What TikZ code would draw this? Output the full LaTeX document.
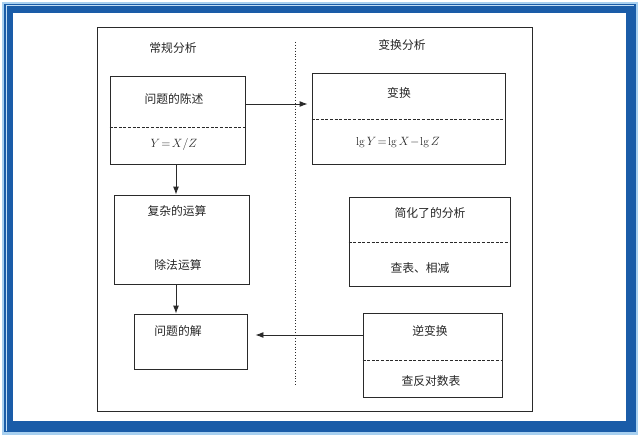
\documentclass[tikz,border=0pt]{standalone}
\usepackage{fontspec}
\newfontfamily\cjk{Noto Sans CJK SC}
\usetikzlibrary{arrows.meta}
\definecolor{frameblue}{HTML}{1A5CA8}
\definecolor{framelight}{HTML}{A8D0F0}
\definecolor{linegray}{HTML}{2A2A2A}
\begin{document}
\begin{tikzpicture}[x=1pt,y=-1pt,
  boxnode/.style={draw=linegray,line width=0.9pt,rectangle,inner sep=0pt},
  lbl/.style={font=\cjk\fontsize{11.8pt}{14pt}\selectfont,text=black!85,inner sep=0pt},
  mlbl/.style={font=\fontsize{11.5pt}{14pt}\selectfont,text=black!85,inner sep=0pt},
  divider/.style={draw=linegray,line width=0.9pt,dash pattern=on 3pt off 1.6pt},
  conn/.style={draw=linegray,line width=0.9pt,-{Latex[length=8pt,width=6pt]}}]
\useasboundingbox (0,0) rectangle (640,436);
% frame
\fill[white] (0,0) rectangle (640,436);
\fill[framelight] (2,2) rectangle (638,435);
\fill[frameblue] (4,4) rectangle (636,432);
\fill[white] (13,13) rectangle (626,421);
\draw[framelight!70!white,line width=1pt] (6,431) -- (6,6) -- (634,6);
% outer box
\node[boxnode,minimum width=435pt,minimum height=384pt] (outer) at (314.5,219) {};
\coordinate (dtop) at (295,42);
\coordinate (dbot) at (295,386);
\draw[linegray,line width=0.9pt,dotted] (dtop) -- (dbot);
% titles
\node[lbl] (t1) at (173,48) {常规分析};
\node[lbl] (t2) at (402,45) {变换分析};
% box 1
\node[boxnode,minimum width=135pt,minimum height=88pt] (b1) at (177.5,120) {};
\draw[divider] (b1.west |- 0,127) -- (b1.east |- 0,127);
\node[lbl] (b1a) at (174,99) {问题的陈述};
\node[mlbl] (b1b) at (174,144) {$Y\!=\!X/Z$};
% box 2
\node[boxnode,minimum width=193pt,minimum height=91pt] (b2) at (408.5,118.5) {};
\draw[divider] (b2.west |- 0,119) -- (b2.east |- 0,119);
\node[lbl] (b2a) at (399,93) {变换};
\node[mlbl] (b2b) at (398,143) {$\lg Y\!=\!\lg X\!-\!\lg Z$};
% box 3
\node[boxnode,minimum width=135pt,minimum height=89pt] (b3) at (181.5,239.5) {};
\node[lbl] (b3a) at (177,211) {复杂的运算};
\node[lbl] (b3b) at (178,265) {除法运算};
% box 4
\node[boxnode,minimum width=113pt,minimum height=55pt] (b4) at (190.5,341.5) {};
\node[lbl] (b4a) at (178,331) {问题的解};
% box 5
\node[boxnode,minimum width=161pt,minimum height=89pt] (b5) at (429.5,241.5) {};
\draw[divider] (b5.west |- 0,242) -- (b5.east |- 0,242);
\node[lbl] (b5a) at (430,213) {简化了的分析};
\node[lbl] (b5b) at (420,268) {查表、相减};
% box 6
\node[boxnode,minimum width=139pt,minimum height=84pt] (b6) at (432.5,355) {};
\draw[divider] (b6.west |- 0,360) -- (b6.east |- 0,360);
\node[lbl] (b6a) at (430,331) {逆变换};
\node[lbl] (b6b) at (431,381) {查反对数表};
% connectors
\draw[conn] (b1.east |- 0,104) -- ([xshift=-4pt]b2.west |- 0,104);
\draw[conn] (b1.south -| 176,0) -- (b3.north -| 176,0);
\draw[conn] (b3.south -| 176,0) -- (b4.north -| 176,0);
\draw[conn] (b6.west |- 0,335) -- ([xshift=8pt]b4.east |- 0,335);
\end{tikzpicture}
\end{document}
